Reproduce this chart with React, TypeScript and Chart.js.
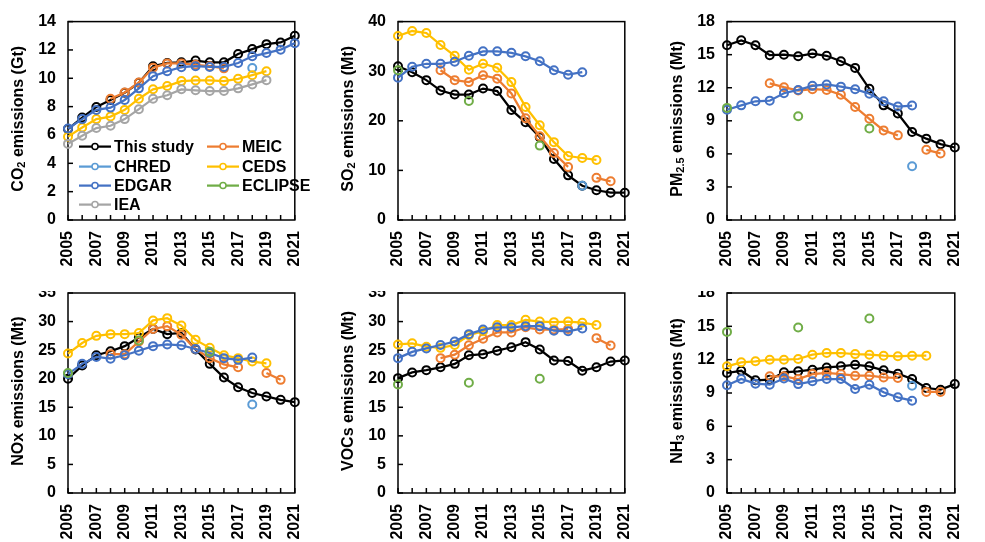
import React, { useEffect, useRef } from 'react';
import { Chart, registerables } from 'chart.js';

Chart.register(...registerables);

const N = null;

const years = ['2005', '2006', '2007', '2008', '2009', '2010', '2011', '2012', '2013', '2014', '2015', '2016', '2017', '2018', '2019', '2020', '2021'];
const seriesNames = ['This study', 'MEIC', 'CHRED', 'CEDS', 'EDGAR', 'ECLIPSE', 'IEA'];
const seriesColors = ['#000000', '#ED7D31', '#5B9BD5', '#FFC000', '#4472C4', '#70AD47', '#A5A5A5'];

// CO2 (Gt)
const co2Study = [6.42, 7.23, 7.98, 8.47, 8.98, 9.68, 10.85, 11.08, 11.13, 11.25, 11.13, 11.13, 11.71, 12.06, 12.41, 12.53, 13.0];
const co2Meic = [N, N, N, 8.55, 9.0, 9.7, 10.75, 11.05, 11.05, 10.95, 10.85, 10.7, N, N, N, N, N];
const co2Chred = [N, N, N, N, N, N, N, N, N, N, N, N, N, 10.73, N, N, N];
const co2Ceds = [5.88, 6.53, 7.12, 7.3, 7.77, 8.56, 9.22, 9.45, 9.8, 9.85, 9.85, 9.8, 9.96, 10.22, 10.5, N, N];
const co2Edgar = [6.46, 7.12, 7.77, 7.93, 8.47, 9.29, 10.15, 10.5, 10.78, 10.85, 10.8, 10.8, 11.08, 11.55, 11.78, 12.02, 12.48];
const co2Eclipse = [N, N, N, N, N, N, N, N, N, N, N, N, N, N, N, N, N];
const co2Iea = [5.37, 5.95, 6.49, 6.65, 7.12, 7.82, 8.56, 8.8, 9.22, 9.15, 9.1, 9.1, 9.29, 9.57, 9.87, N, N];

// SO2 (Mt)
const so2Study = [31.0, 29.8, 28.2, 26.1, 25.3, 25.3, 26.5, 26.0, 22.2, 19.7, 16.7, 12.3, 9.0, 6.9, 6.0, 5.5, 5.5];
const so2Meic = [N, N, N, 30.2, 28.2, 27.8, 29.2, 28.5, 25.5, 20.5, 16.9, 13.5, 10.7, N, 8.5, 7.8, N];
const so2Chred = [N, N, N, N, N, N, N, N, N, N, N, N, N, 6.9, N, N, N];
const so2Ceds = [37.1, 38.1, 37.7, 35.3, 33.1, 30.3, 31.5, 30.7, 27.8, 22.8, 19.1, 15.7, 12.9, 12.5, 12.1, N, N];
const so2Edgar = [28.7, 30.9, 31.5, 31.5, 31.9, 33.1, 34.0, 34.0, 33.7, 33.0, 32.0, 30.2, 29.3, 29.8, N, N, N];
const so2Eclipse = [30.2, N, N, N, N, 24.0, N, N, N, N, 15.0, N, N, N, N, N, N];
const so2Iea = [N, N, N, N, N, N, N, N, N, N, N, N, N, N, N, N, N];

// PM2.5 (Mt)
const pmStudy = [15.85, 16.3, 15.85, 14.95, 15.0, 14.86, 15.1, 14.9, 14.4, 13.8, 11.9, 10.4, 9.66, 7.98, 7.38, 6.88, 6.58];
const pmMeic = [N, N, N, 12.4, 12.05, 11.75, 11.87, 11.8, 11.36, 10.26, 9.18, 8.13, 7.68, N, 6.37, 6.04, N];
const pmChred = [N, N, N, N, N, N, N, N, N, N, N, N, N, 4.87, N, N, N];
const pmCeds = [N, N, N, N, N, N, N, N, N, N, N, N, N, N, N, N, N];
const pmEdgar = [10.0, 10.4, 10.77, 10.83, 11.5, 11.8, 12.17, 12.3, 12.1, 11.87, 11.45, 10.77, 10.29, 10.38, N, N, N];
const pmEclipse = [10.17, N, N, N, N, 9.42, N, N, N, N, 8.31, N, N, N, N, N, N];
const pmIea = [N, N, N, N, N, N, N, N, N, N, N, N, N, N, N, N, N];

// NOx (Mt)
const noxStudy = [20.0, 22.3, 24.1, 24.8, 25.7, 27.2, 28.7, 27.8, 28.0, 25.1, 22.6, 20.2, 18.5, 17.5, 16.9, 16.3, 15.9];
const noxMeic = [N, N, N, 24.3, 24.3, 26.5, 28.7, 29.2, 27.7, 25.2, 23.6, 22.5, 22.0, N, 21.0, 19.8, N];
const noxChred = [N, N, N, N, N, N, N, N, N, N, N, N, N, 15.5, N, N, N];
const noxCeds = [24.4, 26.25, 27.5, 27.8, 27.8, 28.0, 30.2, 30.6, 29.3, 26.8, 25.4, 24.1, 23.6, 23.0, 22.7, N, N];
const noxEdgar = [20.8, 22.6, 23.8, 23.5, 24.1, 24.9, 25.7, 26.0, 25.85, 25.2, 24.5, 23.6, 23.3, 23.7, N, N, N];
const noxEclipse = [21.0, N, N, N, N, 26.7, N, N, N, N, 24.7, N, N, N, N, N, N];
const noxIea = [N, N, N, N, N, N, N, N, N, N, N, N, N, N, N, N, N];

// VOCs (Mt)
const vocStudy = [20.1, 21.1, 21.5, 22.0, 22.6, 24.1, 24.3, 24.9, 25.5, 26.4, 25.1, 23.2, 23.1, 21.4, 22.0, 23.0, 23.2];
const vocMeic = [N, N, N, 23.6, 24.2, 25.85, 27.0, 28.1, 28.1, 29.0, 28.6, 28.6, 28.7, N, 27.1, 25.8, N];
const vocChred = [N, N, N, N, N, N, N, N, N, N, N, N, N, N, N, N, N];
const vocCeds = [26.0, 26.2, 25.6, 25.4, 25.9, 27.6, 28.3, 29.4, 29.4, 30.3, 30.0, 29.9, 30.0, 29.8, 29.4, N, N];
const vocEdgar = [23.6, 24.7, 25.3, 25.9, 26.5, 27.8, 28.6, 29.0, 29.0, 29.2, 29.2, 28.4, 28.3, 28.8, N, N, N];
const vocEclipse = [19.0, N, N, N, N, 19.3, N, N, N, N, 20.0, N, N, N, N, N, N];
const vocIea = [N, N, N, N, N, N, N, N, N, N, N, N, N, N, N, N, N];

// NH3 (Mt)
const nh3Study = [10.8, 11.0, 10.14, 10.2, 10.86, 10.95, 11.1, 11.3, 11.4, 11.55, 11.4, 11.04, 10.74, 10.26, 9.45, 9.3, 9.8];
const nh3Meic = [N, N, N, 10.5, 10.5, 10.26, 10.7, 10.8, 10.7, 10.56, 10.56, 10.4, 10.35, N, 9.1, 9.1, N];
const nh3Chred = [N, N, N, N, N, N, N, N, N, N, N, N, N, 9.66, N, N, N];
const nh3Ceds = [11.4, 11.76, 11.85, 12.0, 12.0, 12.06, 12.45, 12.6, 12.6, 12.5, 12.45, 12.36, 12.3, 12.36, 12.36, N, N];
const nh3Edgar = [9.7, 10.26, 9.84, 9.75, 10.3, 9.8, 10.05, 10.26, 10.26, 9.36, 9.75, 9.06, 8.61, 8.31, N, N, N];
const nh3Eclipse = [14.5, N, N, N, N, 14.9, N, N, N, N, 15.7, N, N, N, N, N, N];
const nh3Iea = [N, N, N, N, N, N, N, N, N, N, N, N, N, N, N, N, N];

type Part = { t: string; sub?: boolean };

const FONT = "'Liberation Sans', Arial, Helvetica, sans-serif";

interface PanelDef {
  title: Part[];
  max: number;
  step: number;
  series: (number | null)[][];
  legend?: boolean;
  wrapLeft: number; wrapTop: number; wrapW: number; wrapH: number;
  canvasTop: number; canvasH: number;
  yW: number; padRight: number; padTop: number; xH: number;
}

const topRow = { wrapTop: 0, wrapH: 270, canvasTop: 0, canvasH: 270, padTop: 20, xH: 50 };
const botRow = { wrapTop: 291, wrapH: 251, canvasTop: -20, canvasH: 271, padTop: 22, xH: 49 };
const col1 = { wrapLeft: 0, wrapW: 325, yW: 68, padRight: 7 };
const col2 = { wrapLeft: 325, wrapW: 330, yW: 73, padRight: 7 };
const col3 = { wrapLeft: 655, wrapW: 330, yW: 72, padRight: 9 };

const panels: PanelDef[] = [
  { title: [{ t: 'CO' }, { t: '2', sub: true }, { t: ' emissions (Gt)' }], max: 14, step: 2,
    series: [co2Study, co2Meic, co2Chred, co2Ceds, co2Edgar, co2Eclipse, co2Iea], legend: true, ...topRow, ...col1 },
  { title: [{ t: 'SO' }, { t: '2', sub: true }, { t: ' emissions (Mt)' }], max: 40, step: 10,
    series: [so2Study, so2Meic, so2Chred, so2Ceds, so2Edgar, so2Eclipse, so2Iea], ...topRow, ...col2 },
  { title: [{ t: 'PM' }, { t: '2.5', sub: true }, { t: ' emissions (Mt)' }], max: 18, step: 3,
    series: [pmStudy, pmMeic, pmChred, pmCeds, pmEdgar, pmEclipse, pmIea], ...topRow, ...col3 },
  { title: [{ t: 'NOx emissions (Mt)' }], max: 35, step: 5,
    series: [noxStudy, noxMeic, noxChred, noxCeds, noxEdgar, noxEclipse, noxIea], ...botRow, ...col1 },
  { title: [{ t: 'VOCs emissions (Mt)' }], max: 35, step: 5,
    series: [vocStudy, vocMeic, vocChred, vocCeds, vocEdgar, vocEclipse, vocIea], ...botRow, ...col2 },
  { title: [{ t: 'NH' }, { t: '3', sub: true }, { t: ' emissions (Mt)' }], max: 18, step: 3,
    series: [nh3Study, nh3Meic, nh3Chred, nh3Ceds, nh3Edgar, nh3Eclipse, nh3Iea], ...botRow, ...col3 },
];

function makeFramePlugin() {
  return {
    id: 'frame',
    beforeDatasetsDraw(chart: any) {
      const { ctx, chartArea } = chart;
      const { left, right, top, bottom } = chartArea;
      ctx.save();
      ctx.strokeStyle = '#000';
      ctx.lineWidth = 1.5;
      ctx.strokeRect(left, top, right - left, bottom - top);
      const ys = chart.scales.y;
      ys.ticks.forEach((t: any) => {
        const y = ys.getPixelForValue(t.value);
        ctx.beginPath();
        ctx.moveTo(left, y);
        ctx.lineTo(left + 5, y);
        ctx.stroke();
      });
      const xs = chart.scales.x;
      for (let i = 0; i < years.length; i++) {
        const x = xs.getPixelForValue(i);
        ctx.beginPath();
        ctx.moveTo(x, bottom);
        ctx.lineTo(x, bottom - 5);
        ctx.stroke();
      }
      ctx.restore();
    },
  };
}

function makeTitlePlugin(parts: Part[]) {
  return {
    id: 'ytitle',
    afterDraw(chart: any) {
      const { ctx, chartArea } = chart;
      const cx = chartArea.left - 49;
      const cy = (chartArea.top + chartArea.bottom) / 2 - 2;
      const big = `bold 16px ${FONT}`;
      const small = `bold 11px ${FONT}`;
      ctx.save();
      ctx.translate(cx, cy);
      ctx.rotate(-Math.PI / 2);
      ctx.fillStyle = '#000';
      ctx.textBaseline = 'middle';
      ctx.textAlign = 'left';
      let total = 0;
      parts.forEach((p) => {
        ctx.font = p.sub ? small : big;
        total += ctx.measureText(p.t).width;
      });
      let x = -total / 2;
      parts.forEach((p) => {
        ctx.font = p.sub ? small : big;
        ctx.fillText(p.t, x, p.sub ? 3 : 0);
        x += ctx.measureText(p.t).width;
      });
      ctx.restore();
    },
  };
}

function makeLegendPlugin() {
  return {
    id: 'insideLegend',
    afterDatasetsDraw(chart: any) {
      const { ctx, chartArea } = chart;
      const rows = [125, 145, 164, 183];
      const cols = [11, 139];
      ctx.save();
      ctx.font = `bold 16px ${FONT}`;
      ctx.textBaseline = 'middle';
      ctx.textAlign = 'left';
      seriesNames.forEach((name, i) => {
        const r = Math.floor(i / 2);
        const c = i % 2;
        const x0 = chartArea.left + cols[c];
        const y = chartArea.top + rows[r];
        const color = seriesColors[i];
        ctx.strokeStyle = color;
        ctx.lineWidth = 2.25;
        ctx.beginPath();
        ctx.moveTo(x0, y);
        ctx.lineTo(x0 + 32, y);
        ctx.stroke();
        ctx.fillStyle = '#fff';
        ctx.lineWidth = 1.5;
        ctx.beginPath();
        ctx.arc(x0 + 16, y, 3, 0, Math.PI * 2);
        ctx.fill();
        ctx.stroke();
        ctx.fillStyle = '#000';
        ctx.fillText(name, x0 + 35, y + 1);
      });
      ctx.restore();
    },
  };
}

function Panel({ def }: { def: PanelDef }) {
  const ref = useRef<HTMLCanvasElement | null>(null);
  useEffect(() => {
    const canvas = ref.current;
    if (!canvas) return;
    const datasets = def.series.map((data, i) => ({
      label: seriesNames[i],
      data,
      borderColor: seriesColors[i],
      backgroundColor: 'rgba(0,0,0,0)',
      borderWidth: 2.25,
      pointRadius: 4,
      pointBorderWidth: 2,
      pointBorderColor: seriesColors[i],
      pointBackgroundColor: 'rgba(0,0,0,0)',
      pointHoverRadius: 4,
      tension: 0,
      spanGaps: false,
      clip: false as any,
      order: -i,
    }));
    const plugins: any[] = [makeFramePlugin(), makeTitlePlugin(def.title)];
    if (def.legend) plugins.push(makeLegendPlugin());
    const chart = new Chart(canvas, {
      type: 'line',
      data: { labels: years, datasets: datasets as any },
      options: {
        responsive: false,
        animation: false,
        devicePixelRatio: 1,
        layout: { padding: { left: 0, right: def.padRight, top: def.padTop, bottom: 0 } },
        plugins: { legend: { display: false }, tooltip: { enabled: false }, title: { display: false } },
        events: [],
        scales: {
          x: {
            type: 'category',
            offset: false,
            grid: { display: false, drawTicks: false },
            border: { display: false },
            ticks: {
              autoSkip: false,
              maxRotation: 90,
              minRotation: 90,
              padding: 11,
              color: '#000',
              font: { family: FONT, size: 16, weight: 'bold' },
              callback: (_v: any, i: number) => (i % 2 === 0 ? years[i] : ''),
            },
            afterFit: (scale: any) => { scale.height = def.xH; },
          },
          y: {
            type: 'linear',
            min: 0,
            max: def.max,
            grid: { display: false, drawTicks: false },
            border: { display: false },
            ticks: {
              stepSize: def.step,
              padding: 12,
              color: '#000',
              font: { family: FONT, size: 16, weight: 'bold' },
            },
            afterFit: (scale: any) => { scale.width = def.yW; },
          },
        },
      } as any,
      plugins,
    });
    return () => chart.destroy();
  }, [def]);
  return (
    <div style={{ position: 'absolute', left: def.wrapLeft, top: def.wrapTop, width: def.wrapW, height: def.wrapH, overflow: 'hidden' }}>
      <canvas ref={ref} width={def.wrapW} height={def.canvasH}
        style={{ position: 'absolute', left: 0, top: def.canvasTop, width: def.wrapW, height: def.canvasH }} />
    </div>
  );
}

export default function App() {
  return (
    <div style={{ position: 'fixed', left: 0, top: 0, width: 985, height: 542, background: '#fff', overflow: 'hidden' }}>
      {panels.map((p, i) => <Panel key={i} def={p} />)}
    </div>
  );
}
